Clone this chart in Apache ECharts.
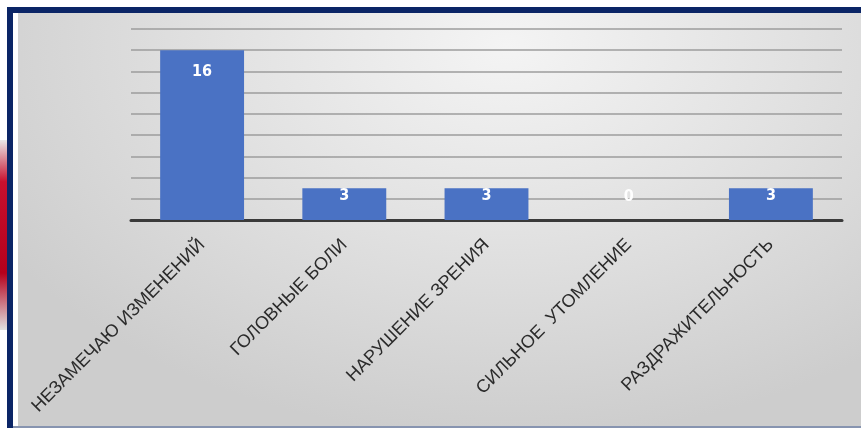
<!DOCTYPE html>
<html>
<head>
<meta charset="utf-8">
<script src="https://cdn.jsdelivr.net/npm/echarts@6/dist/echarts.min.js"></script>
<style>
  html, body { margin: 0; padding: 0; background: #fff; }
  #wrap { position: relative; width: 861px; height: 428px; overflow: hidden; background: #fff; }
  #deco { position: absolute; left: 0; top: 140px; width: 8px; height: 190px;
          background: linear-gradient(180deg, #e8e8e8 0%, #c8102e 22%, #b5001c 70%, #e0e0e0 100%); }
  #frame { position: absolute; left: 7px; top: 7px; right: 0; bottom: 0;
           border-left: 6px solid #0b2566; border-top: 6px solid #0b2566; background: #fff; }
  #bg { position: absolute; left: 18px; top: 13px; right: 0; bottom: 2px;
        background: radial-gradient(ellipse 70% 95% at 58% 8%, #f4f4f4 0%, #e3e3e3 45%, #cdcdcd 100%); }
  #line { position: absolute; left: 13px; right: 0; bottom: 0; height: 2px; background: #8794b0; }
  #main { position: absolute; left: 0; top: 0; width: 861px; height: 428px; }
</style>
</head>
<body>
<div id="wrap">
  <div id="deco"></div>
  <div id="frame"></div>
  <div id="bg"></div>
  <div id="line"></div>
  <div id="main"></div>
</div>
<script>
// категории и значения
var categories = ['НЕЗАМЕЧАЮ ИЗМЕНЕНИЙ', 'ГОЛОВНЫЕ БОЛИ', 'НАРУШЕНИЕ ЗРЕНИЯ', 'СИЛЬНОЕ  УТОМЛЕНИЕ', 'РАЗДРАЖИТЕЛЬНОСТЬ'];
var values = [16, 3, 3, 0, 3];

var chart = echarts.init(document.getElementById('main'), null, { renderer: 'canvas' });

var data = values.map(function (v) {
    var item = { value: v };
    if (v === 0) {
        item.label = { position: 'top', distance: 15 };
    } else if (v > 10) {
        item.label = { position: 'insideTop', distance: 14 };
    }
    return item;
});

var option = {
    animation: false,
    backgroundColor: 'transparent',
    grid: { left: 131, right: 19, top: 29, bottom: 208 },
    xAxis: {
        type: 'category',
        data: categories,
        axisLine: { lineStyle: { color: '#3a3a3a', width: 3 } },
        axisTick: { show: false },
        axisLabel: {
            rotate: 45,
            interval: 0,
            margin: 22,
            color: '#2b2b2b',
            fontFamily: 'Liberation Sans',
            fontSize: 18
        }
    },
    yAxis: {
        type: 'value',
        min: 0,
        max: 18,
        interval: 2,
        axisLabel: { show: false },
        axisLine: { show: false },
        axisTick: { show: false },
        splitLine: { lineStyle: { color: '#9c9c9c', width: 1.5 } }
    },
    series: [{
        type: 'bar',
        data: data,
        barCategoryGap: '41%',
        itemStyle: { color: '#4a72c4' },
        label: {
            show: true,
            position: 'insideTop',
            distance: 0,
            color: '#ffffff',
            fontFamily: "'DejaVu Sans Condensed', 'Liberation Sans', sans-serif",
            fontWeight: 'bold',
            fontSize: 16
        }
    }]
};
chart.setOption(option);
</script>
</body>
</html>
